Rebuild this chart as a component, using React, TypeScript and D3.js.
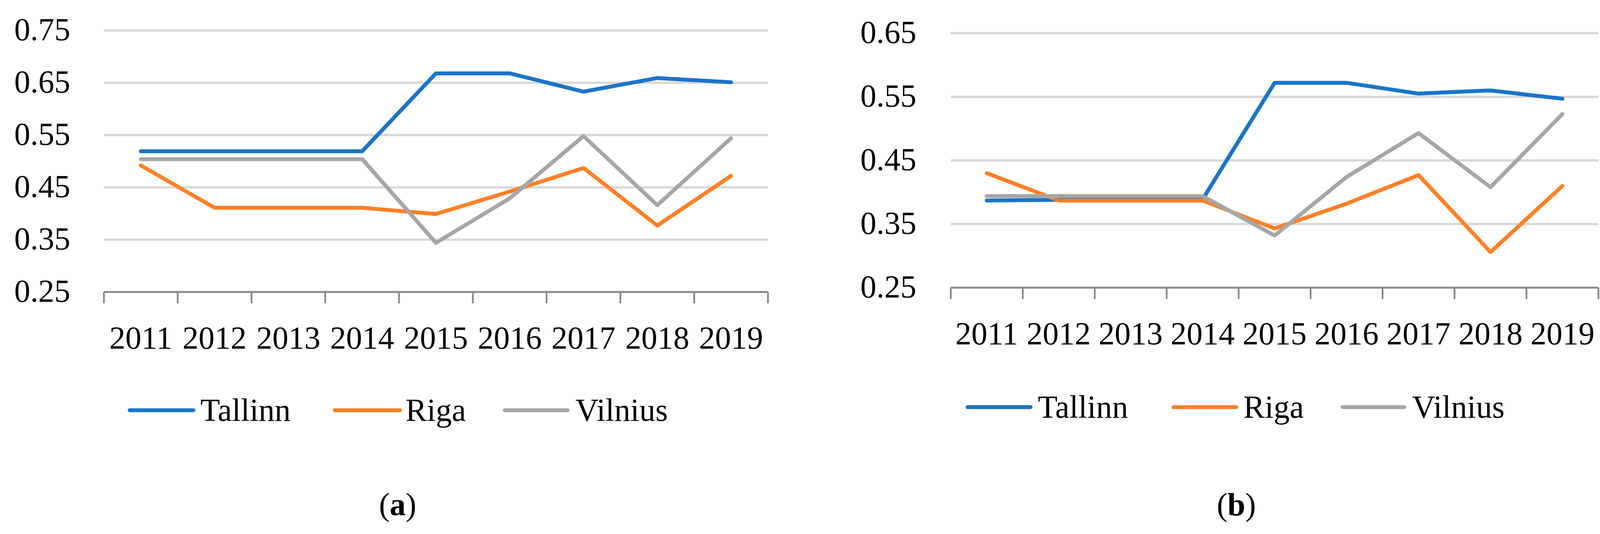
import React from "react";
import * as d3 from "d3";

const years = ["2011", "2012", "2013", "2014", "2015", "2016", "2017", "2018", "2019"];
const seriesNames = ["Tallinn", "Riga", "Vilnius"];
const colors = ["#1B74C9", "#FF8026", "#A6A6A6"];

const tallinnA = [0.519, 0.519, 0.519, 0.519, 0.668, 0.668, 0.633, 0.659, 0.651];
const rigaA = [0.492, 0.411, 0.411, 0.411, 0.399, 0.442, 0.487, 0.377, 0.472];
const vilniusA = [0.504, 0.504, 0.504, 0.504, 0.344, 0.429, 0.548, 0.416, 0.544];

const tallinnB = [0.387, 0.388, 0.388, 0.389, 0.572, 0.572, 0.555, 0.560, 0.547];
const rigaB = [0.430, 0.387, 0.387, 0.387, 0.343, 0.382, 0.427, 0.306, 0.410];
const vilniusB = [0.394, 0.394, 0.394, 0.394, 0.332, 0.424, 0.493, 0.408, 0.523];

const ticksA = [0.25, 0.35, 0.45, 0.55, 0.65, 0.75];
const ticksB = [0.25, 0.35, 0.45, 0.55, 0.65];

const FONT = "'Liberation Serif', 'Times New Roman', serif";

type PanelProps = {
  left: number;
  right: number;
  top: number;
  bottom: number;
  domain: [number, number];
  ticks: number[];
  labelRight: number;
  data: number[][];
  legendY: number;
  legendLines: [number, number][];
  legendTextX: number[];
  captionX: number;
  caption: string;
};

function Panel(p: PanelProps) {
  const x = d3.scaleBand<string>().domain(years).range([p.left, p.right]).padding(0);
  const y = d3.scaleLinear().domain(p.domain).range([p.bottom, p.top]);
  const line = d3
    .line<number>()
    .x((_, i) => (x(years[i]) as number) + x.bandwidth() / 2)
    .y((v) => y(v));
  const boundaries = years.map((yr) => x(yr) as number).concat([p.right]);
  return (
    <g>
      {p.ticks.slice(1).map((t) => (
        <line key={"g" + t} x1={p.left} x2={p.right} y1={y(t)} y2={y(t)} stroke="#D9D9D9" strokeWidth={6} />
      ))}
      {p.ticks.map((t) => (
        <text key={"t" + t} x={p.labelRight} y={y(t) + 25} textAnchor="end" fontFamily={FONT} fontSize={82} fill="#000">
          {t.toFixed(2)}
        </text>
      ))}
      <line x1={p.left} x2={p.right} y1={p.bottom} y2={p.bottom} stroke="#898989" strokeWidth={5} />
      {boundaries.map((bx, i) => (
        <line key={"k" + i} x1={bx} x2={bx} y1={p.bottom} y2={p.bottom + 29} stroke="#898989" strokeWidth={4.5} />
      ))}
      {years.map((yr) => (
        <text
          key={"y" + yr}
          x={(x(yr) as number) + x.bandwidth() / 2}
          y={p.bottom + 145}
          textAnchor="middle"
          fontFamily={FONT}
          fontSize={82}
          fill="#000"
        >
          {yr}
        </text>
      ))}
      {p.data.map((s, i) => (
        <path
          key={"s" + i}
          d={line(s) || ""}
          fill="none"
          stroke={colors[i]}
          strokeWidth={10}
          strokeLinejoin="round"
          strokeLinecap="round"
        />
      ))}
      {seriesNames.map((n, i) => (
        <g key={"l" + n}>
          <line
            x1={p.legendLines[i][0]}
            x2={p.legendLines[i][1]}
            y1={p.legendY}
            y2={p.legendY}
            stroke={colors[i]}
            strokeWidth={10}
            strokeLinecap="round"
          />
          <text x={p.legendTextX[i]} y={p.legendY + 27} fontFamily={FONT} fontSize={82} fill="#000">
            {n}
          </text>
        </g>
      ))}
      <text x={p.captionX} y={1320} textAnchor="middle" fontFamily={FONT} fontSize={82} fill="#000">
        (<tspan fontWeight="bold">{p.caption}</tspan>)
      </text>
    </g>
  );
}

export default function App() {
  return (
    <svg
      width={4157}
      height={1368}
      viewBox="0 0 4157 1368"
      style={{ position: "absolute", left: 0, top: 0, display: "block", background: "#fff" }}
    >
      <rect width={4157} height={1368} fill="#fff" />
      <Panel
        left={266}
        right={1966}
        top={78}
        bottom={748}
        domain={[0.25, 0.75]}
        ticks={ticksA}
        labelRight={180}
        data={[tallinnA, rigaA, vilniusA]}
        legendY={1051}
        legendLines={[[332, 495], [857, 1024], [1292, 1453]]}
        legendTextX={[513, 1038, 1473]}
        captionX={1018}
        caption="a"
      />
      <Panel
        left={2434}
        right={4092}
        top={85}
        bottom={737}
        domain={[0.25, 0.65]}
        ticks={ticksB}
        labelRight={2346}
        data={[tallinnB, rigaB, vilniusB]}
        legendY={1043}
        legendLines={[[2477, 2638], [3004, 3165], [3437, 3595]]}
        legendTextX={[2657, 3183, 3615]}
        captionX={3165}
        caption="b"
      />
    </svg>
  );
}
